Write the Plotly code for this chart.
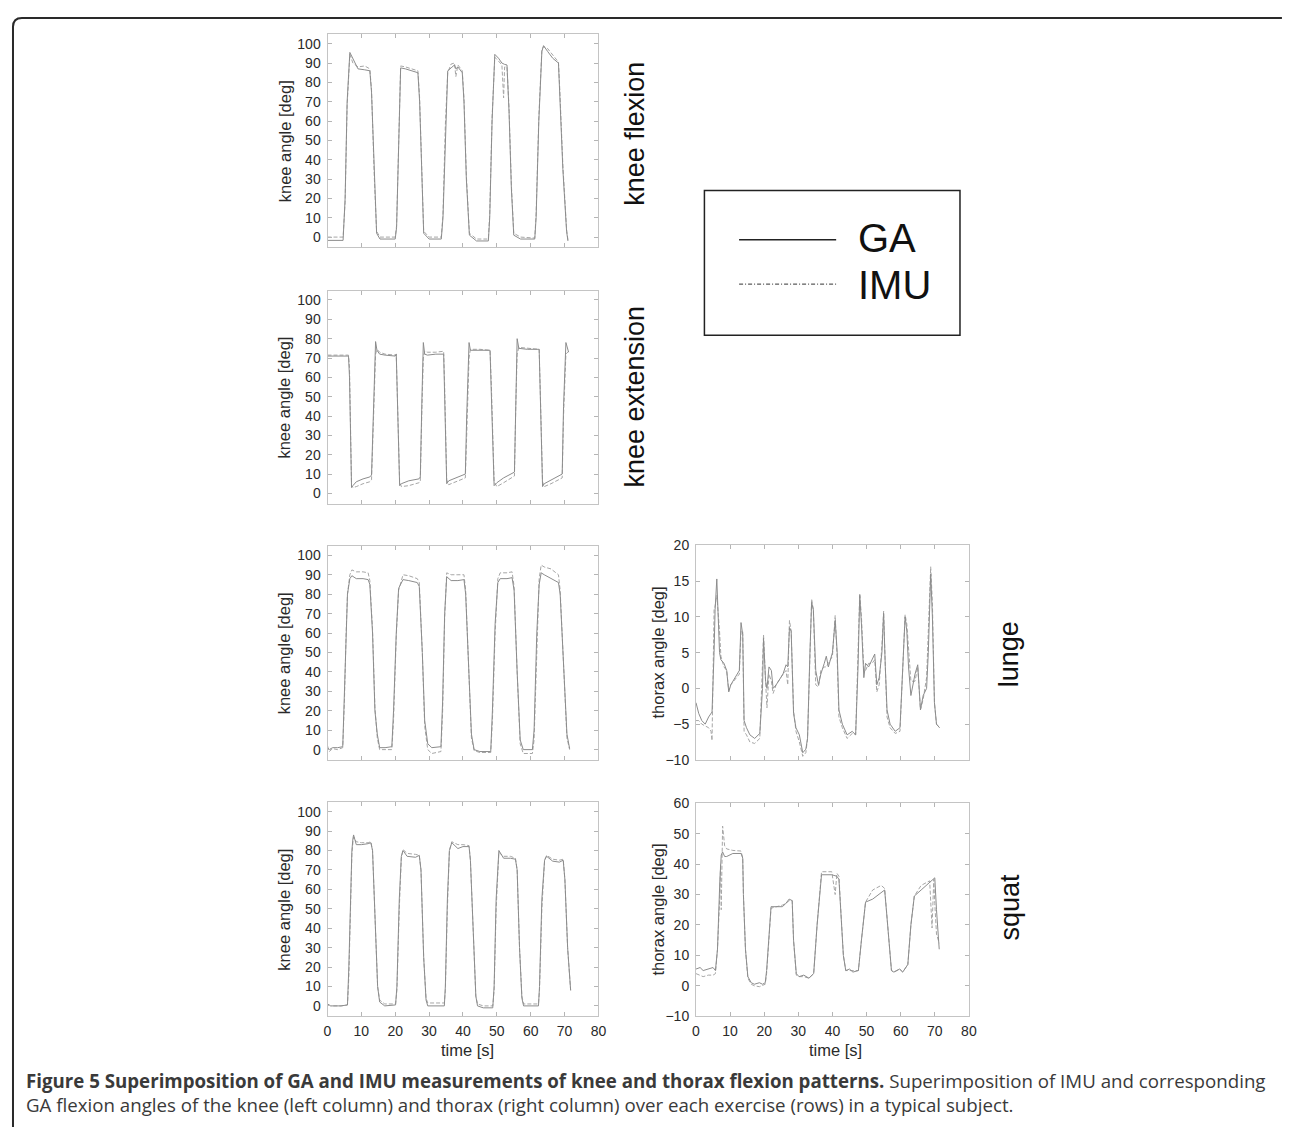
import plotly.graph_objects as go

# ---------------- data ----------------
# knee flexion (knee angle, deg)
flex_t = [0, 4.6, 5.2, 5.8, 6.6, 7.5, 9.0, 11.0, 12.5, 13.0, 13.8, 14.5, 15.5, 20.0, 20.4, 21.0, 21.6, 23.0,
          25.0, 26.7, 27.2, 27.8, 28.4, 30.0, 33.6, 34.1, 34.8, 35.5, 36.5, 37.5, 37.9, 38.5, 39.8, 40.3, 41.0,
          41.9, 44.0, 47.5, 47.9, 48.6, 49.4, 50.5, 51.5, 52.0, 52.3, 53.0, 53.6, 54.3, 55.0, 57.0, 61.2, 61.6,
          62.4, 63.3, 63.8, 65.0, 66.5, 68.2, 68.6, 69.5, 70.6, 71.0]
flex_ga = [-1.7, -1.7, 20, 70, 95.5, 92, 87, 86.5, 86, 75, 30, 2, -1, -1, 5, 50, 87.5, 87,
           86, 85, 70, 30, 2, -1, -1, 10, 55, 86, 87.5, 89, 87, 88, 85, 70, 30,
           1, -2, -2, 10, 60, 94.5, 92.5, 90, 89.5, 89.3, 89, 65, 25, 1, -1, -1, 10,
           60, 96, 99, 96, 92.5, 90, 75, 35, 3, -2]
flex_imu = [0, 0, 18, 68, 94.5, 90, 88, 88.5, 87, 76, 32, 3, 0, 0, 6, 52, 88.5, 88,
            87, 86, 72, 32, 3, 0, 0, 12, 58, 85, 89.5, 90, 83, 89, 86, 72, 32,
            2, -1, -1, 12, 62, 93, 91, 89, 72, 88, 88, 67, 27, 2, 0, -0.5, 12,
            62, 97, 98.5, 97.5, 94, 90.5, 76, 37, 4, -1.5]

# knee extension (knee angle, deg)
ext_t = [0, 6.2, 6.5, 7.1, 7.5, 8.5, 10.5, 12.5, 13.0, 13.6, 14.2, 14.6, 15.4, 17.0, 20.0, 20.3, 20.6, 21.3,
         21.8, 24.0, 27.0, 27.4, 27.9, 28.3, 28.7, 29.5, 32.0, 34.3, 34.6, 35.2, 35.8, 38.0, 40.7, 41.1, 41.8,
         42.2, 45.0, 48.0, 48.4, 49.2, 50.0, 52.0, 55.2, 55.6, 56.0, 56.5, 59.0, 62.5, 62.8, 63.5, 64.0, 66.0,
         69.3, 69.7, 70.4, 71.2]
ext_ga = [71, 71, 60, 3, 4, 6, 7.5, 8.5, 9.5, 45, 78.5, 74, 72, 71.5, 71, 72, 50, 4,
          5, 6.5, 7.5, 8.5, 50, 78, 72, 71.5, 72, 72, 50, 5, 6.5, 8, 10, 40, 78,
          74, 74, 74, 50, 4, 5.5, 8, 11, 50, 80, 75, 74.5, 74.5, 50, 3.5, 5, 7,
          10, 45, 78, 73]
ext_imu = [71.5, 71.5, 65, 4, 3, 3.5, 5, 6, 7, 40, 72, 74.5, 73, 72, 71.5, 72, 55, 6,
           3.5, 4, 5.5, 6, 45, 70, 73.5, 73, 73, 73.5, 55, 7, 4.5, 6, 8, 30, 70,
           74.5, 74.5, 74, 55, 6, 3.5, 5.5, 9, 45, 72, 75.5, 75, 74.5, 55, 6, 3.5, 5,
           8, 40, 72, 73.5]

# lunge (knee angle, deg)
lunk_t = [0, 0.5, 1.5, 3.0, 4.5, 5.0, 5.5, 5.9, 6.6, 7.2, 8.5, 10.5, 12.0, 12.5, 13.3, 14.0, 14.7, 15.4,
          17.0, 19.0, 19.5, 20.3, 21.0, 22.3, 24.0, 26.5, 27.1, 28.0, 28.7, 29.6, 30.8, 33.5, 34.0, 34.6, 35.2,
          36.5, 38.5, 40.3, 40.8, 41.8, 42.5, 43.3, 45.0, 48.2, 48.7, 49.5, 50.3, 51.0, 53.0, 54.5, 55.1, 56.0,
          56.9, 57.8, 60.5, 61.0, 61.8, 62.5, 63.1, 64.0, 66.0, 68.2, 68.7, 69.8, 70.7, 71.5]
lunk_ga = [1, 0, 1, 1, 1.5, 30, 65, 80, 88, 89.5, 88, 88, 87.5, 85, 60, 20, 8, 1,
           1, 1.5, 20, 60, 83, 87.5, 87, 86, 84, 50, 15, 3, 1, 1.5, 25, 70, 89,
           87, 87, 87.5, 80, 40, 8, 0, -1, -1, 20, 65, 86, 88, 88, 88.5, 82, 40,
           5, 0, 0, 10, 60, 85, 91, 90, 88, 86, 80, 40, 8, 0.5]
lunk_imu = [2, -1, 0.5, 0, 1, 25, 60, 80, 90, 92.5, 91.5, 91.5, 91, 87, 62, 22, 6, 0,
            0, 0, 15, 58, 82, 90, 89.5, 88, 86, 50, 12, 0, -2, -1, 20, 68, 91,
            90, 90, 90, 82, 40, 6, -0.5, -1.5, -1.5, 15, 60, 88, 91, 91, 91.5, 84, 40,
            3, -2, -2, 5, 55, 88, 95, 94, 93, 90, 82, 40, 6, 0]

# squat (knee angle, deg)
sqk_t = [0, 1.0, 4.0, 5.9, 6.3, 6.8, 7.2, 7.5, 7.7, 8.5, 10.0, 12.0, 12.8, 13.3, 14.0, 14.8, 15.4, 16.9,
         20.1, 20.5, 21.2, 21.8, 22.3, 23.5, 26.0, 27.1, 27.6, 28.4, 29.1, 29.6, 34.5, 34.8, 35.4, 36.0, 36.7,
         38.5, 40.0, 41.8, 42.2, 43.0, 43.8, 44.3, 46.0, 48.8, 49.2, 49.8, 50.3, 50.6, 52.0, 54.0, 55.5, 56.0,
         56.7, 57.4, 57.9, 62.3, 62.6, 63.3, 64.1, 64.7, 66.5, 68.5, 69.6, 70.1, 70.9, 71.8]
sqk_ga = [1, 0, 0, 0.5, 20, 60, 80, 86, 88, 83, 83, 83.5, 84, 80, 45, 10, 2, 0,
          0.5, 10, 55, 77, 80, 77, 76.5, 77.5, 70, 25, 3, 0, 0, 10, 55, 80, 84,
          81, 82, 82, 75, 35, 5, 0, -1, -1, 10, 55, 76, 80, 76, 76, 75.5, 70,
          30, 4, 0, 0, 10, 55, 75, 77, 74.5, 74, 75, 65, 30, 8]
sqk_imu = [0.5, 0, 0, 0.5, 15, 55, 78, 84, 87, 84.5, 84, 84, 84.5, 80, 45, 10, 3, 1,
           1, 8, 50, 76, 80.5, 78.5, 78, 77.5, 70, 25, 4, 1.5, 1.5, 8, 50, 80, 84.5,
           83, 83, 82.5, 75, 35, 5, 1, 0, 0, 8, 50, 75, 79, 77, 77, 76, 70,
           30, 5, 1, 1, 8, 50, 75, 77.5, 75.5, 75, 75.5, 65, 30, 8]

# lunge (thorax angle, deg)
thl_t = [0, 0.8, 1.7, 2.7, 3.7, 4.4, 4.7, 5.3, 5.6, 6.1, 6.3, 6.9, 7.3, 8.2, 9.0, 9.6, 10.2, 11.9, 12.7,
         13.2, 13.7, 14.1, 14.8, 15.8, 17.2, 18.7, 19.5, 19.8, 20.4, 20.8, 21.4, 22.1, 22.6, 23.5, 25.5, 26.4,
         26.9, 27.4, 27.9, 28.6, 29.3, 30.3, 31.3, 32.2, 32.7, 33.4, 33.9, 34.4, 35.1, 35.9, 36.6, 37.6, 38.2,
         38.8, 40.0, 40.8, 41.4, 41.9, 42.9, 44.3, 45.8, 46.8, 47.5, 48.0, 48.5, 49.2, 49.7, 50.6, 51.6, 52.4,
         53.0, 53.7, 54.5, 55.0, 55.5, 56.0, 56.9, 58.4, 59.8, 60.8, 61.3, 61.8, 62.3, 63.0, 64.2, 65.0, 65.8,
         66.6, 67.6, 68.1, 68.8, 69.3, 69.9, 70.5, 71.4]
thl_ga = [-2, -3.5, -4.5, -5, -4, -3.5, -3.3, 5, 11, 15.3, 13, 5, 4, 3.5, 2.5, -0.5, 0.5, 2, 2.5,
          9.2, 7.5, -4.5, -5.5, -6.5, -7, -6.3, 0, 7, 1, 0, 3, 2.5, 0, 0.5, 2, 3.3,
          3, 8.5, 8, -3.5, -5.5, -6.5, -9, -8.5, -7, 5, 12, 11, 2.5, 0.5, 2, 3.5, 4.5,
          3, 5, 9.5, 5, -3, -5, -6.5, -6, -6.5, 3, 13, 9, 1.5, 3.5, 3, 4, 4.8,
          0.5, 1.5, 5, 10.5, 3, -3, -5, -6, -5.5, 5, 10, 8, 3, -1, 2, 3.3, -3,
          -1, 0, 5, 16, 10, -2, -5, -5.5]
thl_imu = [-4.5, -4.5, -5, -5.2, -5.5, -6, -7.3, 11, 11.5, 13, 12, 8, 4.5, 3, 2.5, -0.3, 0.5, 1.5, 2,
           8, 8, -6, -6.5, -7.5, -7.7, -7, 3, 7.5, 1, -2.7, 2, 1, -0.7, 0.5, 2, 2.5,
           0.5, 9.5, 8, -3, -6, -7.5, -9.5, -9, -7, 3, 12.5, 11, 0.5, 0.2, 2.5, 3, 3,
           3.5, 4.5, 10.2, 4, -4, -5.5, -7, -6.3, -6.5, 4, 13.3, 10, 2.5, 2.5, 3.5, 3.5, 4,
           -0.5, 0.5, 6, 10.8, 3, -4, -5.5, -6.3, -6, 6, 10.3, 9, 5, 1, 1, 3, -3,
           -1.5, 1.5, 7, 17, 12, -2, -5, -5.5]

# squat (thorax angle, deg)
ths_t = [0, 1.2, 2.1, 3.6, 5.0, 5.7, 6.3, 7.0, 7.2, 7.4, 7.8, 8.4, 9.0, 10.8, 13.2, 13.7, 13.9, 14.5,
         15.2, 16.2, 17.1, 18.6, 19.5, 20.3, 20.7, 21.5, 22.0, 25.3, 26.3, 27.3, 28.2, 28.6, 29.4, 30.2, 31.6,
         33.1, 34.5, 35.5, 36.5, 36.8, 39.8, 40.8, 41.3, 41.9, 43.2, 43.9, 45.0, 46.0, 47.6, 48.5, 49.5, 49.7,
         51.8, 54.3, 55.3, 55.8, 57.3, 58.0, 59.7, 60.6, 61.6, 62.1, 63.0, 63.8, 64.0, 66.0, 68.5, 69.2, 69.7,
         70.0, 70.5, 71.3]
ths_ga = [5.5, 6, 5, 5.5, 6, 5, 12, 35, 41, 43, 44, 42.5, 42.5, 43.5, 43.5, 42, 30, 12,
          3, 1, 0.5, 1, 0.5, 1, 5, 20, 26, 26, 27, 28.5, 28, 15, 4, 3, 3.5,
          2.5, 4, 20, 35, 36.5, 36.5, 36, 36, 35, 10, 5, 5.5, 4.5, 5, 15, 26, 27.5,
          28.5, 30.5, 31.5, 25, 5, 4.5, 5.5, 4.5, 6, 7, 20, 28, 29.5, 31.5, 34, 34.5, 35,
          35.5, 25, 12]
ths_imu = [4, 3.5, 3, 3.5, 3.5, 4, 12, 30, 40, 25, 52.5, 46, 45, 44.5, 44.3, 42, 30, 12,
           2.5, 0.5, 0, -0.3, 0, 0.5, 4, 19, 25.5, 26.5, 27, 28, 28, 15, 3.5, 3, 3,
           2.5, 4, 20, 35, 37.5, 37.5, 30, 37, 36, 10, 5, 5, 5, 5, 15, 26, 27.5,
           31.5, 33, 32, 25, 5, 4.5, 5.5, 4.5, 6, 7, 20, 28, 29.5, 33, 34.5, 19, 35,
           27, 17, 14]

time_ticks = [0, 10, 20, 30, 40, 50, 60, 70, 80]
knee_ticks = [0, 10, 20, 30, 40, 50, 60, 70, 80, 90, 100]
lunge_thorax_ticks = [-10, -5, 0, 5, 10, 15, 20]
squat_thorax_ticks = [-10, 0, 10, 20, 30, 40, 50, 60]

row_labels = ["knee flexion", "knee extension", "lunge", "squat"]
knee_title = "knee angle [deg]"
thorax_title = "thorax angle [deg]"
time_title = "time [s]"
legend_names = ["GA", "IMU"]
caption_bold = "Figure 5 Superimposition of GA and IMU measurements of knee and thorax flexion patterns."
caption_rest = " Superimposition of IMU and corresponding"
caption_line2 = ("GA flexion angles of the knee (left column) and thorax (right column) over each "
                 "exercise (rows) in a typical subject.")

# ---------------- layout helpers ----------------
# The page body keeps its default 8px margin on every side; the figure is sized so the
# whole page is exactly the 1290x1135 window (no scrolling) and every position below is
# given in window pixels.
OFF = 8
W, H = 1290 - 2 * OFF, 1135 - 2 * OFF


def fx(p):
    return (p - OFF) / W


def fy(p):
    return 1 - (p - OFF) / H


knee_x = (326.5, 600)
thor_x = (698.5, 974)
rows_y = [(26.7, 242.7), (286.7, 502.7), (545.7, 762.7), (805.7, 1022.7)]

# (t, ga, imu, xdom, ydom, yrange, yticks, show x labels)
panels = [
    (flex_t, flex_ga, flex_imu, knee_x, rows_y[0], [-5.3, 104.8], knee_ticks, False),
    (ext_t, ext_ga, ext_imu, knee_x, rows_y[1], [-5.3, 104.8], knee_ticks, False),
    (lunk_t, lunk_ga, lunk_imu, knee_x, rows_y[2], [-5.3, 104.8], knee_ticks, False),
    (thl_t, thl_ga, thl_imu, thor_x, (545.0, 762.7), [-10, 20], lunge_thorax_ticks, False),
    (sqk_t, sqk_ga, sqk_imu, knee_x, rows_y[3], [-5.3, 104.8], knee_ticks, True),
    (ths_t, ths_ga, ths_imu, thor_x, (806.7, 1022.7), [-10, 60], squat_thorax_ticks, True),
]

fig = go.Figure()
tick_font = dict(family="Liberation Sans, Arial, sans-serif", size=14, color="#2a2a2a")
layout_axes = {}
for i, (t, ga, imu, xd, yd, yr, yt, showx) in enumerate(panels, start=1):
    xa = "x" if i == 1 else f"x{i}"
    ya = "y" if i == 1 else f"y{i}"
    fig.add_trace(go.Scatter(x=t, y=imu, mode="lines", xaxis=xa, yaxis=ya, showlegend=False,
                             line=dict(color="#a6a6a6", width=1, dash="4px,2px")))
    fig.add_trace(go.Scatter(x=t, y=ga, mode="lines", xaxis=xa, yaxis=ya, showlegend=False,
                             line=dict(color="#8c8c8c", width=1)))
    xkey = "xaxis" if i == 1 else f"xaxis{i}"
    ykey = "yaxis" if i == 1 else f"yaxis{i}"
    layout_axes[xkey] = dict(domain=[fx(xd[0]), fx(xd[1])], anchor=ya, range=[0, 80],
                             tickvals=time_ticks, showticklabels=showx, ticks="inside", ticklen=4,
                             tickcolor="#b5b5b5", mirror="allticks", showline=True, linecolor="#c4c4c4",
                             linewidth=1, showgrid=False, zeroline=False, tickfont=tick_font,
                             ticklabelstandoff=2)
    layout_axes[ykey] = dict(domain=[fy(yd[1]), fy(yd[0])], anchor=xa, range=yr,
                             tickvals=yt, ticks="inside", ticklen=4, tickcolor="#b5b5b5",
                             mirror="allticks", showline=True, linecolor="#c4c4c4", linewidth=1,
                             showgrid=False, zeroline=False, tickfont=tick_font,
                             ticklabelstandoff=3)

annotations = []
title_font = dict(family="Liberation Sans, Arial, sans-serif", size=16.5, color="#2a2a2a")
for yd in rows_y:
    annotations.append(dict(x=fx(283), y=fy((yd[0] + yd[1]) / 2), xref="paper", yref="paper",
                            text=knee_title, textangle=-90, showarrow=False, font=title_font,
                            xanchor="center", yanchor="middle"))
for yd in [(545.0, 762.7), (806.7, 1022.7)]:
    annotations.append(dict(x=fx(660), y=fy((yd[0] + yd[1]) / 2), xref="paper", yref="paper",
                            text=thorax_title, textangle=-90, showarrow=False, font=title_font,
                            xanchor="center", yanchor="middle"))
for xc in [468, 839]:
    annotations.append(dict(x=fx(xc), y=fy(1057), xref="paper", yref="paper", text=time_title,
                            showarrow=False, font=title_font, xanchor="center", yanchor="middle"))

side_font = dict(family="Liberation Sans, Arial, sans-serif", size=27, color="#111111")
for (xc, yc, lab) in [(637, 127.5, row_labels[0]), (637, 394, row_labels[1]),
                      (1014, 656, row_labels[2]), (1016, 912, row_labels[3])]:
    annotations.append(dict(x=fx(xc), y=fy(yc), xref="paper", yref="paper", text=lab,
                            textangle=-90, showarrow=False, font=side_font,
                            xanchor="center", yanchor="middle"))

leg_font = dict(family="Liberation Sans, Arial, sans-serif", size=40, color="#111111")
annotations.append(dict(x=fx(860), y=fy(233), xref="paper", yref="paper", text=legend_names[0],
                        showarrow=False, font=leg_font, xanchor="left", yanchor="middle"))
annotations.append(dict(x=fx(860), y=fy(281), xref="paper", yref="paper", text=legend_names[1],
                        showarrow=False, font=leg_font, xanchor="left", yanchor="middle"))

# two-line caption as one text block
cap_font = dict(family="Open Sans, sans-serif", size=18.7, color="#3a3a3a")
annotations.append(dict(x=fx(20), y=fy(1100), xref="paper", yref="paper",
                        text="<b>" + caption_bold + "</b>" + caption_rest + "<br>" + caption_line2,
                        showarrow=False, font=cap_font, xanchor="left", yanchor="middle",
                        align="left"))

shapes = [
    # legend box and sample lines
    dict(type="rect", xref="paper", yref="paper", x0=fx(707), x1=fx(965), y0=fy(332), y1=fy(185),
         line=dict(color="#222222", width=1.5)),
    dict(type="line", xref="paper", yref="paper", x0=fx(742), x1=fx(840), y0=fy(235), y1=fy(235),
         line=dict(color="#222222", width=1.3)),
    dict(type="line", xref="paper", yref="paper", x0=fx(742), x1=fx(840), y0=fy(280), y1=fy(280),
         line=dict(color="#333333", width=1, dash="4px,2px,1px,2px")),
    # outer rounded frame (its right and bottom sides run off the picture)
    dict(type="path", xref="paper", yref="paper",
         path=(f"M {fx(9)},{fy(1140)} L {fx(9)},{fy(19)} Q {fx(9)},{fy(10)} {fx(18)},{fy(10)} "
               f"L {fx(1290)},{fy(10)}"),
         line=dict(color="#2a2a2a", width=2)),
]

fig.update_layout(width=W, height=H, margin=dict(l=0, r=0, t=0, b=0), paper_bgcolor="white",
                  plot_bgcolor="white", showlegend=False, annotations=annotations, shapes=shapes,
                  **layout_axes)

fig.write_html("out.html")
